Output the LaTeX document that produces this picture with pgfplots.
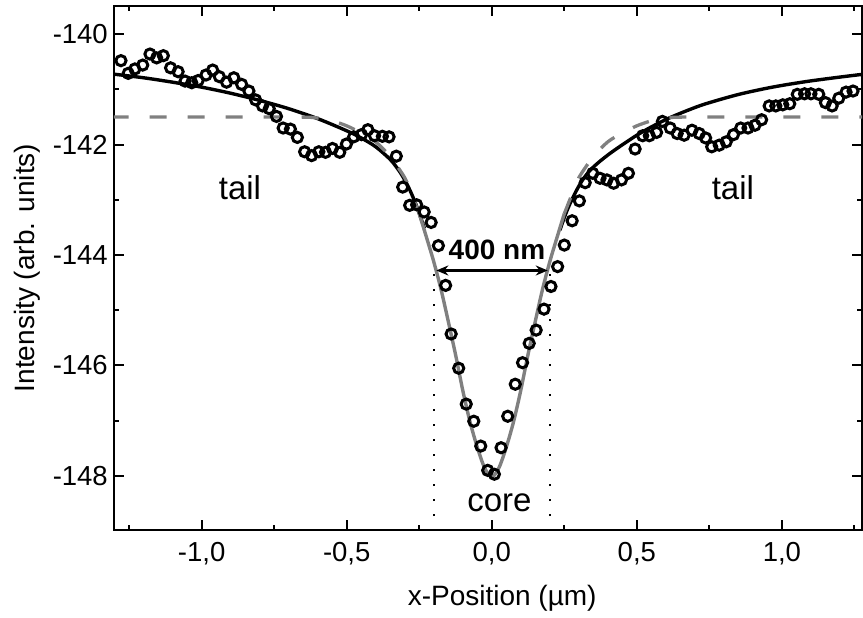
\documentclass[border=0pt]{standalone}
\usepackage{pgfplots}
\pgfplotsset{compat=1.18}
\usepackage{pgfplotstable}
\usepackage{fontspec}
\setmainfont{Liberation Sans}
\usetikzlibrary{arrows.meta}

\pgfplotstableread{
x y
-1.278 -140.48
-1.253 -140.71
-1.230 -140.63
-1.203 -140.56
-1.178 -140.36
-1.155 -140.43
-1.132 -140.39
-1.107 -140.61
-1.081 -140.68
-1.057 -140.85
-1.034 -140.88
-1.012 -140.84
-0.985 -140.74
-0.962 -140.65
-0.939 -140.77
-0.914 -140.87
-0.889 -140.79
-0.862 -140.91
-0.837 -141.03
-0.814 -141.19
-0.790 -141.30
-0.767 -141.35
-0.742 -141.49
-0.719 -141.70
-0.694 -141.72
-0.670 -141.87
-0.645 -142.13
-0.621 -142.20
-0.596 -142.13
-0.573 -142.14
-0.549 -142.07
-0.524 -142.14
-0.501 -141.99
-0.476 -141.86
-0.449 -141.82
-0.427 -141.73
-0.404 -141.84
-0.377 -141.85
-0.354 -141.86
-0.329 -142.21
-0.307 -142.77
-0.283 -143.10
-0.259 -143.09
-0.233 -143.22
-0.209 -143.41
-0.184 -143.83
-0.159 -144.55
-0.140 -145.43
-0.114 -146.05
-0.088 -146.70
-0.062 -147.01
-0.038 -147.46
-0.014 -147.90
0.009 -147.97
0.032 -147.49
0.055 -146.92
0.081 -146.34
0.106 -145.95
0.129 -145.60
0.153 -145.36
0.180 -144.98
0.204 -144.57
0.227 -144.21
0.250 -143.82
0.277 -143.38
0.302 -143.02
0.322 -142.69
0.348 -142.52
0.373 -142.61
0.397 -142.64
0.420 -142.70
0.447 -142.64
0.471 -142.52
0.494 -142.08
0.520 -141.84
0.543 -141.84
0.568 -141.78
0.588 -141.58
0.615 -141.70
0.639 -141.80
0.663 -141.83
0.690 -141.74
0.715 -141.80
0.737 -141.88
0.758 -142.04
0.784 -142.01
0.808 -141.95
0.833 -141.82
0.858 -141.70
0.883 -141.70
0.907 -141.65
0.930 -141.55
0.956 -141.30
0.979 -141.30
1.003 -141.28
1.027 -141.26
1.053 -141.09
1.078 -141.08
1.100 -141.08
1.127 -141.09
1.150 -141.24
1.173 -141.30
1.196 -141.16
1.221 -141.05
1.245 -141.03
}\measured

\pgfplotstableread{
x y
-1.310 -140.72
-1.200 -140.79
-1.100 -140.87
-1.000 -140.96
-0.900 -141.07
-0.800 -141.20
-0.700 -141.35
-0.600 -141.53
-0.500 -141.75
-0.450 -141.88
-0.400 -142.04
-0.350 -142.27
-0.320 -142.47
-0.300 -142.64
-0.280 -142.85
-0.260 -143.10
-0.245 -143.32
-0.232 -143.52
}\tailleft

\pgfplotstableread{
x y
0.235 -143.55
0.250 -143.32
0.267 -143.10
0.290 -142.85
0.313 -142.64
0.340 -142.46
0.371 -142.31
0.410 -142.15
0.451 -142.00
0.500 -141.83
0.550 -141.68
0.611 -141.52
0.680 -141.37
0.738 -141.26
0.852 -141.09
0.967 -140.96
1.082 -140.86
1.196 -140.78
1.290 -140.72
}\tailright

\pgfplotstableread{
x y
-1.310 -141.50
-0.700 -141.50
-0.600 -141.52
-0.550 -141.57
-0.500 -141.66
-0.450 -141.79
-0.400 -141.95
-0.350 -142.22
-0.300 -142.60
-0.275 -142.92
-0.250 -143.25
}\gaussleft

\pgfplotstableread{
x y
-0.250 -143.25
-0.225 -143.68
-0.200 -144.12
-0.175 -144.62
-0.150 -145.20
-0.125 -145.80
-0.100 -146.45
-0.075 -147.02
-0.050 -147.48
-0.025 -147.85
0.000 -148.02
0.025 -147.85
0.050 -147.48
0.075 -147.02
0.100 -146.45
0.125 -145.80
0.150 -145.20
0.175 -144.62
0.200 -144.12
0.225 -143.68
0.250 -143.25
}\gausscore

\pgfplotstableread{
x y
0.250 -143.25
0.275 -142.92
0.300 -142.60
0.350 -142.22
0.400 -141.95
0.450 -141.79
0.500 -141.66
0.550 -141.57
0.600 -141.52
0.700 -141.50
1.290 -141.50
}\gaussright

\begin{document}
\begin{tikzpicture}
\begin{axis}[
  scale only axis,
  width=748pt, height=524pt,
  xmin=-1.302, xmax=1.276,
  ymin=-148.98, ymax=-139.49,
  xtick={-1,-0.5,0,0.5,1},
  minor xtick={-1.25,-0.75,-0.25,0.25,0.75,1.25},
  ytick={-148,-146,-144,-142,-140},
  minor ytick={-147,-145,-143,-141},
  tick align=inside,
  major tick length=10.5pt,
  minor tick length=5.5pt,
  axis line style={line width=2pt},
  tick style={line width=2pt, black},
  /pgf/number format/assume math mode=true,
  tick label style={font=\fontsize{27.5}{32}\selectfont},
  xticklabel style={anchor=base, yshift=-31.7pt,
    /pgf/number format/.cd, fixed, fixed zerofill, precision=1, use comma},
  yticklabel style={anchor=east, inner sep=0pt, xshift=-6pt,
    /pgf/number format/.cd, fixed, precision=0},
  xticklabel shift=0pt,
  yticklabel shift=0pt,
  xlabel={x-Position (µm)},
  ylabel={Intensity (arb. units)},
  label style={font=\fontsize{28}{32}\selectfont},
  xlabel style={at={(axis description cs:0.519,-0.145)}, anchor=base},
  ylabel style={at={(axis description cs:-0.1156,0.5)}, anchor=center, rotate=0},
]
\addplot[only marks, mark=o, mark size=5.1pt, mark options={line width=3pt, black}] table {\measured};
\addplot[black, line width=3.4pt, smooth, no marks] table {\tailleft};
\addplot[black, line width=3.4pt, smooth, no marks] table {\tailright};
\addplot[gray, line width=3.3pt, smooth, no marks, dash pattern=on 17pt off 21pt] table {\gaussleft};
\addplot[gray, line width=3.3pt, smooth, no marks, dash pattern=on 17pt off 21pt] table {\gaussright};
\addplot[gray, line width=3.4pt, smooth, no marks] table {\gausscore};
\addplot[black, line width=1.8pt, no marks, dash pattern=on 1.8pt off 13.2pt] coordinates {(-0.2,-149) (-0.2,-144.2)};
\addplot[black, line width=1.8pt, no marks, dash pattern=on 1.8pt off 13.2pt] coordinates {(0.2,-149) (0.2,-144.2)};
\draw[line width=2.2pt, {Stealth[length=12pt,width=10pt]}-{Stealth[length=12pt,width=10pt]}] (axis cs:-0.191,-144.28) -- (axis cs:0.193,-144.28);
\node[anchor=base, font=\fontsize{28}{32}\selectfont\bfseries] at (axis cs:0.018,-144.09) {400 nm};
\node[anchor=base, font=\fontsize{33}{38}\selectfont] at (axis cs:-0.868,-143.0) {tail};
\node[anchor=base, font=\fontsize{33}{38}\selectfont] at (axis cs:0.831,-143.0) {tail};
\node[anchor=base, font=\fontsize{33}{38}\selectfont] at (axis cs:0.0265,-148.65) {core};
\end{axis}
\path ([xshift=-114pt,yshift=-87pt]current axis.south west) rectangle ([xshift=1pt,yshift=6pt]current axis.north east);
\end{tikzpicture}
\end{document}
